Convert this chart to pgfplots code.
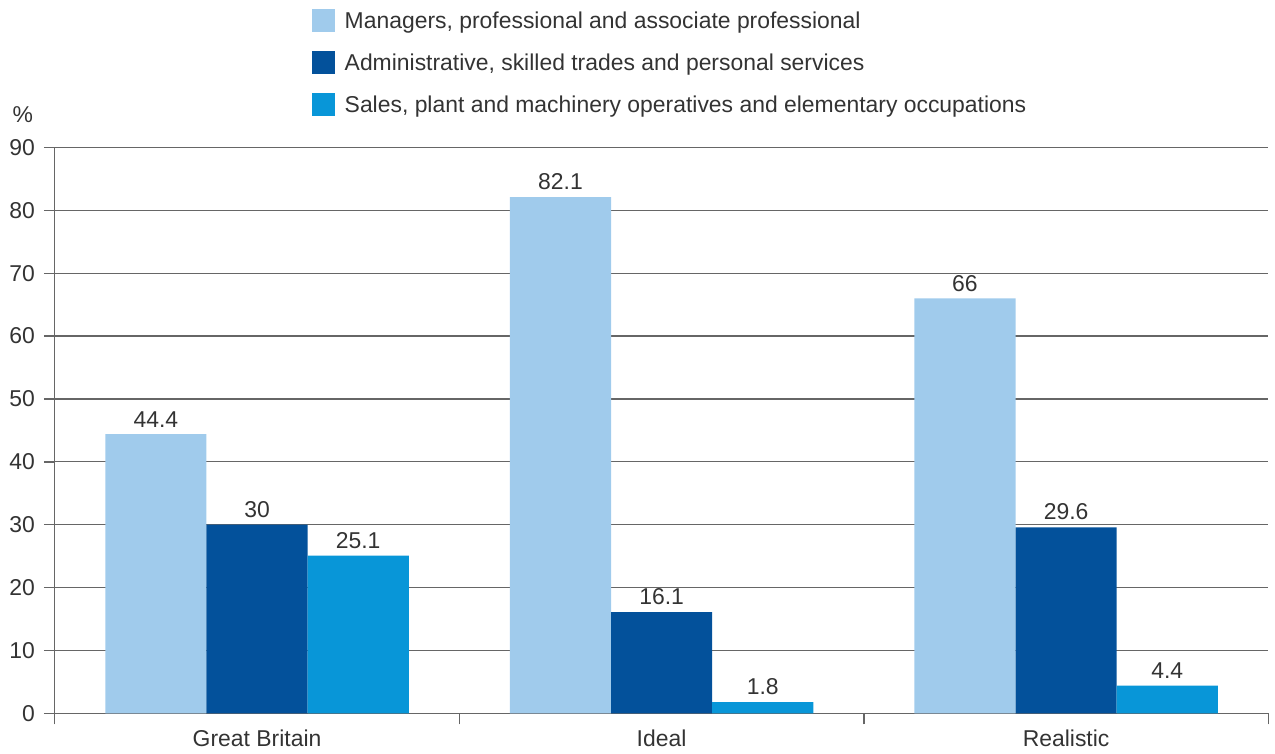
\documentclass[border=0pt]{standalone}
\usepackage{pgfplots}
\pgfplotsset{compat=1.18}
\usepackage{fontspec}
\setmainfont{Liberation Sans}
\definecolor{cA}{HTML}{A0CBEC}
\definecolor{cB}{HTML}{03519B}
\definecolor{cC}{HTML}{0896D8}
\definecolor{txt}{HTML}{333333}
\definecolor{gridc}{HTML}{666666}
\begin{document}
\begin{tikzpicture}
\begin{axis}[
  scale only axis,
  width=609pt, height=284pt,
  ybar, bar width=0.25, ybar=0pt,
  xmin=-0.5, xmax=2.5, ymin=0, ymax=90,
  axis lines*=left,
  axis line style={draw=gridc, line width=0.7pt},
  ytick={0,10,...,90},
  ymajorgrids, grid style={draw=gridc, line width=0.6pt},
  xtick={-0.5,0.5,1.5,2.5}, xticklabels={},
  extra x ticks={0,1,2},
  extra x tick labels={Great Britain, Ideal, Realistic},
  extra x tick style={major tick length=0pt, grid=none, xticklabel style={yshift=-5pt}},
  tick align=outside, major tick length=5.5pt,
  tick style={draw=gridc, line width=0.7pt},
  every tick label/.append style={font=\fontsize{11.5}{13}\selectfont, text=txt},
  /pgf/number format/assume math mode=true,
  yticklabel style={xshift=-1pt},
  nodes near coords,
  every node near coord/.append style={font=\fontsize{11.5}{13}\selectfont, text=txt, yshift=0pt},
  legend style={at={(axis description cs:0.2118,1.2447)}, anchor=north west, draw=none, fill=none,
    inner sep=0pt, outer sep=0pt, row sep=9.5pt,
    font=\fontsize{11.5}{13}\selectfont, text=txt,
    nodes={inner sep=0pt, outer sep=0pt}},
  legend cell align=left,
  legend image code/.code={\fill[#1] (0pt,-5pt) rectangle (11.5pt,6.5pt); \path (16.5pt,0pt);},
  clip=false,
]
\addplot[fill=cA, draw=none] coordinates {(0,44.4) (1,82.1) (2,66)};
\addplot[fill=cB, draw=none] coordinates {(0,30) (1,16.1) (2,29.6)};
\addplot[fill=cC, draw=none] coordinates {(0,25.1) (1,1.8) (2,4.4)};
\legend{Managers{,} professional and associate professional,
        Administrative{,} skilled trades and personal services,
        Sales{,} plant and machinery operatives and elementary occupations}
\node[anchor=center, font=\fontsize{11.5}{13}\selectfont, text=txt] at ([xshift=-16pt,yshift=16.5pt]rel axis cs:0,1) {\%};
\coordinate (sw) at (rel axis cs:0,0);
\coordinate (ne) at (rel axis cs:1,1);
\end{axis}
\useasboundingbox ([shift={(-27.5pt,-20pt)}]sw) rectangle ([shift={(1pt,74pt)}]ne);
\end{tikzpicture}
\end{document}
